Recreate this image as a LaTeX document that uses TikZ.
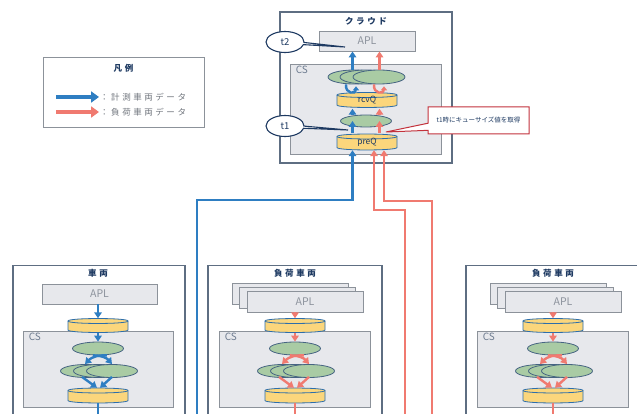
\documentclass[tikz,border=0pt]{standalone}
\usepackage{fontspec}
\setmainfont{Noto Sans CJK JP}
\newfontfamily\jpsp[LetterSpace=30]{Noto Sans CJK JP}
\usepackage{tikz}
\usetikzlibrary{positioning, arrows.meta, shapes.geometric, shapes.callouts, shadows, calc}
\definecolor{framecol}{RGB}{94,110,130}
\definecolor{panelline}{RGB}{140,146,154}
\definecolor{panelfill}{RGB}{231,232,236}
\definecolor{apltext}{RGB}{140,146,156}
\definecolor{cstext}{RGB}{110,124,144}
\definecolor{ellfill}{RGB}{169,203,164}
\definecolor{elline}{RGB}{70,100,130}
\definecolor{cylfill}{RGB}{251,214,124}
\definecolor{cylline}{RGB}{45,110,170}
\definecolor{bluearr}{RGB}{46,126,194}
\definecolor{redarr}{RGB}{240,122,112}
\definecolor{navycol}{RGB}{30,58,98}
\definecolor{callred}{RGB}{195,50,60}

\begin{document}
\begin{tikzpicture}[x=1pt, y=-1pt,
    frame/.style={draw=framecol, line width=1.3pt, fill=white, inner sep=0pt},
    panel/.style={draw=panelline, line width=0.9pt, fill=panelfill, inner sep=0pt},
    aplbox/.style={font=\fontsize{10.5}{12}\selectfont, text=apltext},
    cslbl/.style={anchor=north west, inner xsep=6pt, inner ysep=2pt, font=\fontsize{10}{12}\selectfont, text=cstext},
    ell/.style={ellipse, draw=elline, line width=0.8pt, fill=ellfill, minimum width=51, minimum height=13, inner sep=0pt},
    cyl/.style={rectangle, minimum width=62, minimum height=#1, inner sep=0pt,
        font=\fontsize{8.5}{10}\selectfont, text=navycol,
        path picture={
            \path[draw=cylline, line width=0.8pt, fill=cylfill]
                ($(path picture bounding box.north west)+(1,3.5)$) -- ($(path picture bounding box.south west)+(1,-3.5)$)
                .. controls +(0,3.3) and +(0,3.3) .. ($(path picture bounding box.south east)+(-1,-3.5)$)
                -- ($(path picture bounding box.north east)+(-1,3.5)$)
                .. controls +(0,-3.3) and +(0,-3.3) .. ($(path picture bounding box.north west)+(1,3.5)$) -- cycle;
            \draw[cylline, line width=0.8pt] ($(path picture bounding box.north west)+(1,3.5)$)
                .. controls +(0,3.3) and +(0,3.3) .. ($(path picture bounding box.north east)+(-1,3.5)$);
        }},
    cyl/.default=17,
    barr/.style={draw=bluearr, line width=2.4pt, -{Triangle[length=6pt, width=7.5pt]}},
    rarr/.style={draw=redarr, line width=2.4pt, -{Triangle[length=6pt, width=7.5pt]}},
    bline/.style={draw=bluearr, line width=2.4pt},
    rline/.style={draw=redarr, line width=2.4pt},
    ttl/.style={font=\jpsp\bfseries\fontsize{8.5}{10}\selectfont, text=navycol},
    tcall/.style={ellipse callout, draw=navycol, line width=1.1pt, fill=white, minimum width=38, minimum height=21,
        inner sep=0pt, callout pointer arc=12, font=\fontsize{9.5}{11}\selectfont, text=navycol},
    qcall/.style={rectangle callout, draw=callred, line width=1pt, fill=white, minimum width=101, minimum height=27,
        inner sep=0pt, font=\fontsize{6.5}{8}\selectfont, text=navycol}]

    \useasboundingbox (0,0) rectangle (637,414);

    % === CLOUD ===
    \node[frame, minimum width=172, minimum height=151] (cloud) at (366,87.5) {};
    \node[ttl] (cloudT) at (366,21) {クラウド};
    \node[panel, aplbox, minimum width=96, minimum height=20] (cApl) at (367,41) {APL};
    \node[panel, minimum width=151, minimum height=90] (cCs) at (365.5,109) {};
    \node[cslbl] (cCsT) at (cCs.north west) {CS};

    % queues and processes
    \node[ell, minimum width=52, minimum height=14] (cE1) at (354,77) {};
    \node[ell, minimum width=52, minimum height=14] (cE2) at (366,77) {};
    \node[ell, minimum width=52, minimum height=14] (cE3) at (379,77) {};
    \node[cyl] (rcvQ) at (367,100) {rcvQ};
    \node[ell, minimum height=12] (cMid) at (366,121) {};
    \node[cyl=18] (preQ) at (367,142) {preQ};
    \coordinate (colB) at (352.5,0);
    \coordinate (colR) at (379.5,0);

    % flow inside the cloud
    \draw[barr] (preQ.north -| colB) -- (cMid.center -| colB);
    \draw[barr] (cMid.north -| colB) -- (rcvQ.south -| colB);
    \draw[rarr] (preQ.north -| colR) -- (cMid.center -| colR);
    \draw[rarr] (cMid.north -| colR) -- (rcvQ.south -| colR);
    \draw[barr, -{Triangle[length=4pt, width=6pt]}] ($(rcvQ.north)+(-21,-7)$) .. controls ($(rcvQ.north)+(-22,3)$) and ($(rcvQ.north)+(-11,3)$) .. ($(rcvQ.north)+(-11,-5)$);
    \draw[rarr, -{Triangle[length=4pt, width=6pt]}] ($(rcvQ.north)+(7,-7)$) .. controls ($(rcvQ.north)+(6,3)$) and ($(rcvQ.north)+(17,3)$) .. ($(rcvQ.north)+(17,-5)$);
    \draw[barr] (cE1.north -| colB) -- (cApl.south -| colB);
    \draw[rarr] (cE3.north -| colR) -- (cApl.south -| colR);

    % lines coming up from the vehicles
    \coordinate (inB) at (197,420);
    \coordinate (inR1) at (405,420);
    \coordinate (inR2) at (432,420);
    \coordinate (colR1) at (374,0);
    \coordinate (colR2) at (384,0);
    \draw[barr] (inB) -- ++(0,-220) -| ($(preQ.south -| colB)+(0,-1)$);
    \draw[rarr] (inR1) -- ++(0,-210) -| ($(preQ.south -| colR1)+(0,-1)$);
    \draw[rarr] (inR2) -- ++(0,-219) -| ($(preQ.south -| colR2)+(0,-1)$);

    % === CALLOUTS ===
    \coordinate (t2tip) at (345,47);
    \node[tcall, callout absolute pointer={(t2tip)}] (t2) at (285,42) {t2};
    \coordinate (t1tip) at (348,130);
    \node[tcall, callout absolute pointer={(t1tip)}] (t1) at (285,126) {t1};
    \coordinate (qtip) at (386,132);
    \node[qcall, callout absolute pointer={(qtip)}] (qNote) at (478.5,120.5) {t1時にキューサイズ値を取得};

    % === LEGEND ===
    \node[panel, fill=white, minimum width=161, minimum height=70] (leg) at (123.5,92) {};
    \node[ttl] (legT) at (123.5,68) {凡例};
    \coordinate (lgB0) at (56,97);
    \coordinate (lgB1) at (99,97);
    \coordinate (lgR0) at (56,112);
    \coordinate (lgR1) at (99,112);
    \draw[bluearr, line width=3.5pt, -{Triangle[length=8pt, width=11pt]}] (lgB0) -- (lgB1);
    \draw[redarr, line width=3.5pt, -{Triangle[length=8pt, width=11pt]}] (lgR0) -- (lgR1);
    \node[font=\jpsp\fontsize{8.5}{10}\selectfont, text=apltext!80!black, anchor=west, inner xsep=1pt] (legBT) at (lgB1) {：計測車両データ};
    \node[font=\jpsp\fontsize{8.5}{10}\selectfont, text=apltext!80!black, anchor=west, inner xsep=1pt] (legRT) at (lgR1) {：負荷車両データ};

    % === VEHICLE (measured) ===
    \node[frame, minimum width=172, minimum height=160, anchor=north] (v1) at (99,265) {};
    \node[ttl] (v1T) at (98,273) {車両};
    \node[panel, aplbox, minimum width=115, minimum height=20] (v1Apl) at (99.5,294) {APL};
    \node[panel, minimum width=150, minimum height=76] (v1Cs) at (98,369) {};
    \node[cslbl] (v1CsT) at (v1Cs.north west) {CS};
    \node[cyl=16] (v1Qa) at (98,325.5) {};
    \node[ell] (v1E0) at (98,348.5) {};
    \node[ell] (v1E1) at (86,371) {};
    \node[ell] (v1E2) at (99,371) {};
    \node[ell] (v1E3) at (112,371) {};
    \node[cyl] (v1Qb) at (98,395.5) {};
    \coordinate (v1Out) at (98,420);
    \draw[barr] (v1Apl.south -| v1Qa) -- ($(v1Qa.north)+(0,1)$);
    \draw[barr] ($(v1Qa.south)+(0,-1)$) -- (v1E0.north);
    \draw[barr] ($(v1E0.south)+(9,0)$) to[bend right=25] ($(v1E1.north)+(-1,0)$);
    \draw[barr] ($(v1E0.south)+(-5,0)$) to[bend left=25] (v1E3.north);
    \draw[barr] ($(v1E1.south)+(-4,-1)$) -- ($(v1Qb.north)+(-1,1)$);
    \draw[barr] ($(v1E3.south)+(0,-1)$) -- ($(v1Qb.north)+(2,1)$);
    \draw[bline] ($(v1Qb.south)+(0,-1)$) -- (v1Out);

    % === VEHICLES (load) ===
    \foreach \cx/\id in {295/l, 553/r} {
        \node[frame, minimum width=174, minimum height=160, anchor=north] (\id V) at (\cx,265) {};
        \node[ttl] (\id T) at (\cx,273) {負荷車両};
        \node[panel, aplbox, minimum width=116, minimum height=21,
            double copy shadow={shadow xshift=-7.5pt, shadow yshift=4pt}] (\id Apl) at (\cx+10,301.5) {APL};
        \node[panel, minimum width=151, minimum height=76] (\id Cs) at (\cx-0.5,369) {};
        \node[cslbl] (\id CsT) at (\id Cs.north west) {CS};
        \node[cyl=16] (\id Qa) at (\cx,325.5) {};
        \node[ell] (\id E0) at (\cx,348.5) {};
        \node[ell] (\id E1) at (\cx-12,371) {};
        \node[ell] (\id E2) at (\cx+1,371) {};
        \node[ell] (\id E3) at (\cx+14,371) {};
        \node[cyl] (\id Qb) at (\cx,395.5) {};
        \coordinate (\id Out) at (\cx,420);
        \draw[rarr] (\id Apl.south -| \id Qa) -- ($(\id Qa.north)+(0,1)$);
        \draw[rarr] ($(\id Qa.south)+(0,-1)$) -- (\id E0.north);
        \draw[rarr] ($(\id E0.south)+(9,0)$) to[bend right=25] ($(\id E1.north)+(-1,0)$);
        \draw[rarr] ($(\id E0.south)+(-5,0)$) to[bend left=25] (\id E3.north);
        \draw[rarr] ($(\id E1.south)+(-4,-1)$) -- ($(\id Qb.north)+(-1,1)$);
        \draw[rarr] ($(\id E3.south)+(0,-1)$) -- ($(\id Qb.north)+(2,1)$);
        \draw[rline] ($(\id Qb.south)+(0,-1)$) -- (\id Out);
    }

\end{tikzpicture}
\end{document}
